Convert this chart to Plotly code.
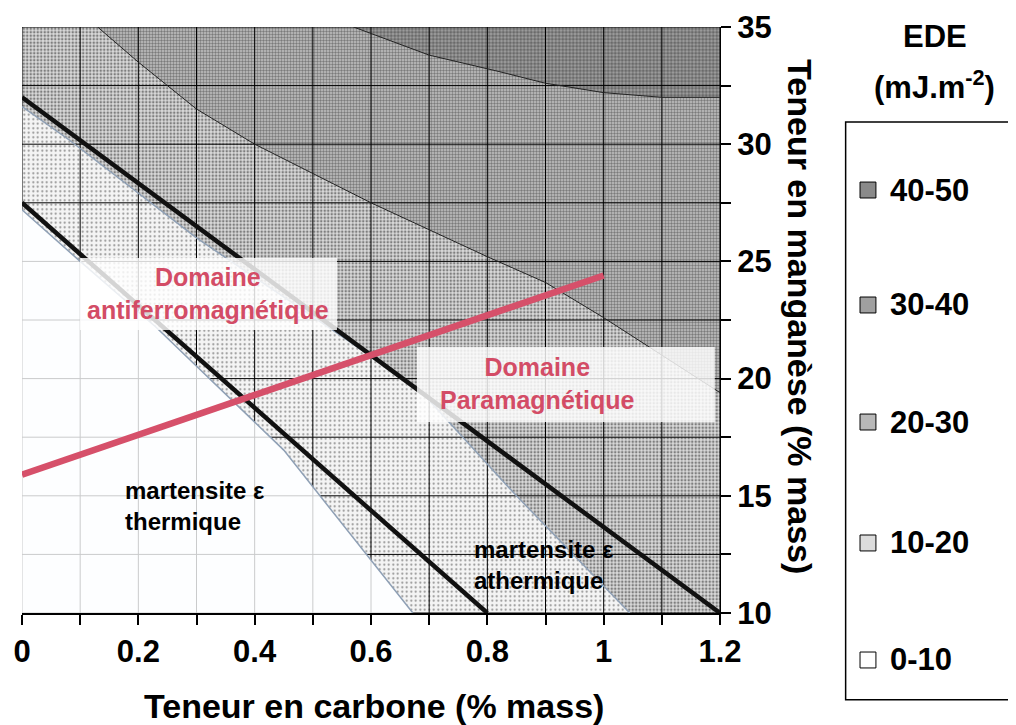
import plotly.graph_objects as go

# ---------------- data ----------------
x_range = [0, 1.2]
y_range = [10, 35]
x_grid = [0, 0.1, 0.2, 0.3, 0.4, 0.5, 0.6, 0.7, 0.8, 0.9, 1.0, 1.1, 1.2]
y_grid = [10, 12.5, 15, 17.5, 20, 22.5, 25, 27.5, 30, 32.5, 35]

# SFE (EDE) contour boundaries (carbon %, manganese %)
b1_x = [0, 0.1, 0.23, 0.45, 0.672]            # 0-10 / 10-20
b1_y = [27.2, 25.0, 22.2, 16.95, 10.0]
b2_x = [0, 0.08, 0.3, 0.55, 0.684, 0.85, 1.045]  # 10-20 / 20-30
b2_y = [31.6, 30.2, 26.0, 21.8, 19.5, 15.0, 10.0]
b3_x = [0.13, 0.2, 0.3, 0.4, 0.6, 0.8, 0.9, 1.0, 1.1, 1.2]  # 20-30 / 30-40
b3_y = [35.0, 33.5, 31.5, 30.0, 27.5, 25.2, 24.1, 22.6, 21.0, 19.4]
b4_x = [0.57, 0.7, 0.82, 0.9, 1.0, 1.1, 1.2]   # 30-40 / 40-50
b4_y = [35.0, 33.8, 33.1, 32.6, 32.2, 32.0, 32.0]

# transition lines
athermal_x = [0, 1.2]
athermal_y = [32.0, 10.0]
thermal_x = [0, 0.8]
thermal_y = [27.5, 10.0]
magnetic_x = [0, 1.0]
magnetic_y = [15.9, 24.4]

legend_labels = ["40-50", "30-40", "20-30", "10-20", "0-10"]
legend_colors = ["#8a8a8a", "#a0a0a0", "#b8b8b8", "#dcdcdc", "#ffffff"]

FONT = "Liberation Sans, Arial, sans-serif"

fig = go.Figure()

xmin, xmax = x_range
ymin, ymax = y_range


def region_above(bx, by):
    xs = list(bx)
    ys = list(by)
    if ys[-1] == ymin and xs[-1] < xmax:
        xs.append(xmax); ys.append(ymin)
    if xs[-1] < xmax or ys[-1] < ymax:
        xs.append(xmax); ys.append(ymax)
    if not (xs[0] > xmin and ys[0] == ymax):
        xs.append(xmin); ys.append(ymax)
    xs.append(xs[0]); ys.append(ys[0])
    return xs, ys


patterns = [
    (b1_x, b1_y, dict(shape=".", size=4.5, solidity=0.16, fgcolor="#222", bgcolor="#f4f4f4")),
    (b2_x, b2_y, dict(shape=".", size=3.5, solidity=0.42, fgcolor="#222", bgcolor="#dadada")),
    (b3_x, b3_y, dict(shape=".", size=3, solidity=0.5, fgcolor="#333", bgcolor="#c2c2c2")),
    (b4_x, b4_y, dict(shape=".", size=3.5, solidity=0.6, fgcolor="#333", bgcolor="#a0a0a0")),
]
for bx, by, pat in patterns:
    px, py = region_above(bx, by)
    fig.add_trace(go.Scatter(x=px, y=py, mode="lines", fill="toself",
                             line=dict(width=0), fillcolor="rgba(0,0,0,0)",
                             fillpattern=pat, hoverinfo="skip", showlegend=False))

# black grid
gx, gy = [], []
for v in x_grid:
    gx += [v, v, None]; gy += [ymin, ymax, None]
for h in y_grid:
    gx += [xmin, xmax, None]; gy += [h, h, None]
fig.add_trace(go.Scatter(x=gx, y=gy, mode="lines", line=dict(color="black", width=1),
                         hoverinfo="skip", showlegend=False))

# 0-10 zone (white, lets grid show faintly)
zx = list(b1_x) + [xmin, b1_x[0]]
zy = list(b1_y) + [ymin, b1_y[0]]
fig.add_trace(go.Scatter(x=zx, y=zy, mode="lines", fill="toself", line=dict(width=0),
                         fillcolor="rgba(253,254,255,0.80)", hoverinfo="skip", showlegend=False))

# contour boundary lines
for bx, by, col, w in [(b1_x, b1_y, "#8fa0b5", 1.5), (b2_x, b2_y, "#8fa0b5", 1.5),
                       (b3_x, b3_y, "#222", 1), (b4_x, b4_y, "#222", 1)]:
    fig.add_trace(go.Scatter(x=bx, y=by, mode="lines", line=dict(color=col, width=w),
                             hoverinfo="skip", showlegend=False))

# transition lines
for lx, ly in [(athermal_x, athermal_y), (thermal_x, thermal_y)]:
    fig.add_trace(go.Scatter(x=lx, y=ly, mode="lines", line=dict(color="#111", width=4.5),
                             hoverinfo="skip", showlegend=False, cliponaxis=False))
fig.add_trace(go.Scatter(x=magnetic_x, y=magnetic_y, mode="lines",
                         line=dict(color="#d6506a", width=6.5), hoverinfo="skip", showlegend=False))

# label boxes
shapes = [
    dict(type="rect", xref="x", yref="y", x0=0.0997, x1=0.5415, y0=22.07, y1=25.15,
         fillcolor="rgba(255,255,255,0.82)", line=dict(width=0), layer="above"),
    dict(type="rect", xref="x", yref="y", x0=0.679, x1=1.191, y0=18.15, y1=21.35,
         fillcolor="rgba(255,255,255,0.82)", line=dict(width=0), layer="above"),
]

C = dict(xanchor="center", yanchor="middle", showarrow=False)
annotations = [
    dict(x=0.32, y=23.63, xref="x", yref="y", **C,
         text="<b>Domaine<br>antiferromagnétique</b>",
         font=dict(family=FONT, size=25, color="#d34c66"), align="center"),
    dict(x=0.887, y=19.79, xref="x", yref="y", **C,
         text="<b>Domaine<br>Paramagnétique</b>",
         font=dict(family=FONT, size=25, color="#d34c66"), align="center"),
    dict(x=0.174, y=14.56, xref="x", yref="y", showarrow=False, xanchor="left", yanchor="middle",
         text="<b>martensite ε<br>thermique</b>",
         font=dict(family=FONT, size=24, color="black"), align="left"),
    dict(x=0.774, y=12.05, xref="x", yref="y", showarrow=False, xanchor="left", yanchor="middle",
         text="<b>martensite ε<br>athermique</b>",
         font=dict(family=FONT, size=24, color="black"), align="left"),
    # axis titles
    dict(x=0.504, y=-0.159, xref="paper", yref="paper", **C,
         text="<b>Teneur en carbone (% mass)</b>",
         font=dict(family=FONT, size=34, color="black")),
    dict(x=1.1146, y=0.505, xref="paper", yref="paper", **C, textangle=90,
         text="<b>Teneur en manganèse (% mass)</b>",
         font=dict(family=FONT, size=34, color="black")),
    # legend title
    dict(x=1.308, y=0.983, xref="paper", yref="paper", **C,
         text="<b>EDE</b>", font=dict(family=FONT, size=31, color="black")),
    dict(x=1.308, y=0.901, xref="paper", yref="paper", **C,
         text="<b>(mJ.m<sup>-2</sup>)</b>", font=dict(family=FONT, size=31, color="black")),
]

# legend box
shapes.append(dict(type="rect", xref="paper", yref="paper", x0=1.180, x1=1.46,
                   y0=-0.148, y1=0.838, line=dict(color="black", width=1.5),
                   fillcolor="rgba(0,0,0,0)"))
leg_y = [0.7218, 0.5256, 0.3259, 0.1195, -0.0802]
for lab, col, yy in zip(legend_labels, legend_colors, leg_y):
    shapes.append(dict(type="rect", xref="paper", yref="paper",
                       x0=1.2006, x1=1.2234, y0=yy - 0.0136, y1=yy + 0.0136,
                       fillcolor=col, line=dict(color="black", width=1)))
    annotations.append(dict(x=1.2407, y=yy, xref="paper", yref="paper", showarrow=False,
                            xanchor="left", yanchor="middle", text="<b>" + lab + "</b>",
                            font=dict(family=FONT, size=31, color="black")))

# page body has an 8px margin: plot area placed at x 22-720, y 27-613 of the window
fig.update_layout(
    width=1008, height=717,
    margin=dict(l=14, r=296, t=19, b=112, autoexpand=False),
    paper_bgcolor="white", plot_bgcolor="white",
    shapes=shapes, annotations=annotations,
    showlegend=False,
    xaxis=dict(range=x_range, tickvals=[0, 0.2, 0.4, 0.6, 0.8, 1.0, 1.2],
               ticktext=["0", "0.2", "0.4", "0.6", "0.8", "1", "1.2"],
               ticks="outside", ticklen=10, tickwidth=1.5, tickcolor="black",
               minor=dict(dtick=0.1, tick0=0, ticks="outside", ticklen=10, tickwidth=1.5,
                          tickcolor="black", showgrid=False),
               showgrid=False, zeroline=False, showline=True, linecolor="black", linewidth=2,
               tickfont=dict(family=FONT, size=31, color="black", weight="bold"),
               ticklabelstandoff=0),
    yaxis=dict(range=y_range, side="right", tickvals=[10, 15, 20, 25, 30, 35],
               ticks="outside", ticklen=10, tickwidth=1.5, tickcolor="black",
               minor=dict(dtick=2.5, tick0=10, ticks="outside", ticklen=10, tickwidth=1.5,
                          tickcolor="black", showgrid=False),
               showgrid=False, zeroline=False, showline=True, linecolor="black", linewidth=1,
               tickfont=dict(family=FONT, size=31, color="black", weight="bold")),
)

fig.write_html("out.html")
